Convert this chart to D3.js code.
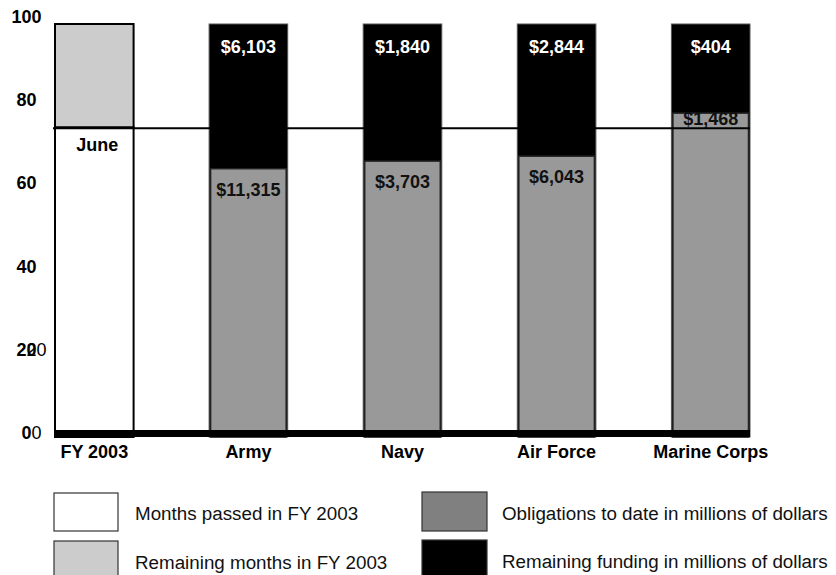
<!DOCTYPE html>
<html><head><meta charset="utf-8">
<script src="https://cdn.jsdelivr.net/npm/d3@7"></script>
<style>body{margin:0;background:#fff}svg{display:block}text{font-family:"Liberation Sans",Arial,Helvetica,sans-serif}</style>
</head><body><svg id="c" width="836" height="575"></svg>
<script>
const categories = ["FY 2003", "Army", "Navy", "Air Force", "Marine Corps"];
const services = ["Army", "Navy", "Air Force", "Marine Corps"];
const obligations = [11315, 3703, 6043, 1468];
const remaining = [6103, 1840, 2844, 404];
const monthsPassed = 9;
const monthsInYear = 12;
const monthLabel = "June";
const yTicks = [0, 20, 40, 60, 80, 100];
const yTicks2 = [0, 20];
const legendLeft = ["Months passed in FY 2003", "Remaining months in FY 2003"];
const legendRight = ["Obligations to date in millions of dollars", "Remaining funding in millions of dollars"];

const svg = d3.select("#c");
const x = d3.scaleBand().domain(categories).range([55, 750]).paddingInner(0.49).paddingOuter(0);
const y = d3.scaleLinear().domain([0, 100]).range([437, 24]);
const yLab = d3.scaleLinear().domain([0, 100]).range([433, 17]);
const fmt = v => "$" + d3.format(",")(v);
const bw = x.bandwidth();

// FY 2003 bar
const passedPct = monthsPassed / monthsInYear * 100;
svg.append("rect").attr("x", x("FY 2003")).attr("y", y(passedPct)).attr("width", bw)
  .attr("height", y(0) - y(passedPct)).attr("fill", "#fff").attr("stroke", "#000").attr("stroke-width", 2);
svg.append("rect").attr("x", x("FY 2003")).attr("y", y(100)).attr("width", bw)
  .attr("height", y(passedPct) - y(100)).attr("fill", "#cccccc").attr("stroke", "#000").attr("stroke-width", 2);

// service bars
const data = services.map((s, i) => ({s, ob: obligations[i], rem: remaining[i], pct: obligations[i] / (obligations[i] + remaining[i]) * 100}));
const g = svg.append("g");
g.selectAll("rect.rem").data(data).join("rect").attr("class", "rem")
  .attr("x", d => x(d.s)).attr("y", y(100)).attr("width", bw).attr("height", d => y(0) - y(100))
  .attr("fill", "#000").attr("stroke", "#555").attr("stroke-width", 1);
g.selectAll("rect.ob").data(data).join("rect").attr("class", "ob")
  .attr("x", d => x(d.s) + 1.5).attr("y", d => y(d.pct)).attr("width", bw - 3).attr("height", d => y(0) - y(d.pct))
  .attr("fill", "#999999").attr("stroke", "#222").attr("stroke-width", 1.5);

// June line
const jy = y(passedPct);
svg.append("line").attr("x1", 53).attr("x2", x("Marine Corps") + bw).attr("y1", jy + 1).attr("y2", jy + 1)
  .attr("stroke", "#000").attr("stroke-width", 2);

// labels
g.selectAll("text.rem").data(data).join("text").attr("class", "rem")
  .attr("x", d => x(d.s) + bw / 2).attr("y", y(100) + 23).attr("text-anchor", "middle").attr("dominant-baseline", "central")
  .attr("fill", "#fff").attr("font-weight", "bold").attr("font-size", 18).text(d => fmt(d.rem));
g.selectAll("text.ob").data(data).join("text").attr("class", "ob")
  .attr("x", d => x(d.s) + bw / 2)
  .attr("y", d => y(d.pct) < jy ? (y(d.pct) + jy) / 2 - 1 : y(d.pct) + 21)
  .attr("text-anchor", "middle").attr("dominant-baseline", "central")
  .attr("fill", "#111").attr("font-weight", "bold").attr("font-size", 18).text(d => fmt(d.ob));
svg.append("text").attr("x", x("FY 2003") + bw / 2 + 3).attr("y", jy + 18).attr("text-anchor", "middle")
  .attr("dominant-baseline", "central").attr("font-weight", "bold").attr("font-size", 18).text(monthLabel);

// baseline
svg.append("rect").attr("x", 55).attr("y", 430).attr("width", x("Marine Corps") + bw - 55).attr("height", 7).attr("fill", "#000");

// y labels (two overlapping axes as in the original)
svg.selectAll("text.yl").data(yTicks).join("text").attr("class", "yl")
  .attr("x", 26.5).attr("y", d => yLab(d)).attr("text-anchor", "middle").attr("dominant-baseline", "central")
  .attr("font-weight", "bold").attr("font-size", 18).text(d => d);
svg.selectAll("text.yl2").data(yTicks2).join("text").attr("class", "yl2")
  .attr("x", 36.5).attr("y", d => yLab(d)).attr("text-anchor", "middle").attr("dominant-baseline", "central")
  .attr("font-size", 18).text(d => d);

// x labels
svg.selectAll("text.xl").data(categories).join("text").attr("class", "xl")
  .attr("x", d => x(d) + bw / 2).attr("y", 452).attr("text-anchor", "middle").attr("dominant-baseline", "central")
  .attr("font-weight", "bold").attr("font-size", 18).text(d => d);

// legend
const lf1 = ["#ffffff", "#cccccc"], lf2 = ["#808080", "#000000"];
legendLeft.forEach((t, i) => {
  svg.append("rect").attr("x", 54).attr("y", 493 + i * 48).attr("width", 64).attr("height", 38)
    .attr("fill", lf1[i]).attr("stroke", "#333").attr("stroke-width", 1.2);
  svg.append("text").attr("x", 135).attr("y", 513 + i * 49).attr("dominant-baseline", "central")
    .attr("font-size", 18.8).attr("fill", "#111").text(t);
});
legendRight.forEach((t, i) => {
  svg.append("rect").attr("x", 422).attr("y", 492 + i * 48).attr("width", 65).attr("height", 39)
    .attr("fill", lf2[i]).attr("stroke", "#333").attr("stroke-width", 1.2);
  svg.append("text").attr("x", 502).attr("y", 513 + i * 48).attr("dominant-baseline", "central")
    .attr("font-size", 18.8).attr("fill", "#111").text(t);
});
</script></body></html>
